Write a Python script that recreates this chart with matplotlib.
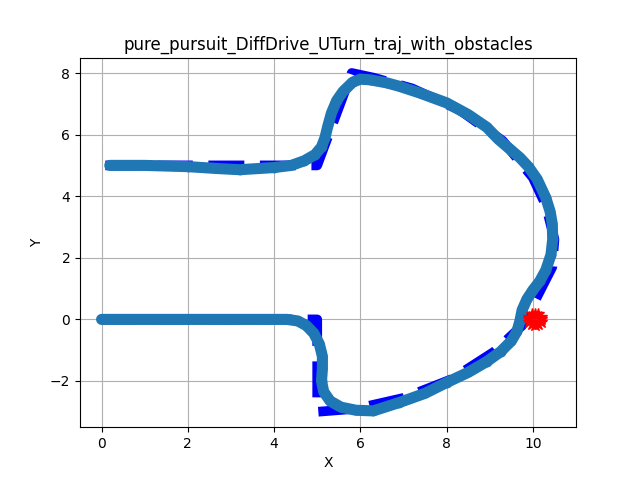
import matplotlib
matplotlib.use('Agg')
import matplotlib.pyplot as plt

# reference path (blue dashed)
ref_x = [0.0, 5.0, 5.0, 5.0, 5.9, 7.0, 8.1, 9.1, 9.75, 10.05, 10.45, 10.5, 10.3, 10.0, 9.3, 8.3, 7.2, 6.3, 5.8, 5.0, 0.0]
ref_y = [0.0, 0.0, -1.5, -3.0, -2.9, -2.55, -1.95, -1.05, -0.2, 0.6, 1.7, 2.6, 3.7, 4.6, 5.8, 6.8, 7.5, 7.85, 8.0, 5.0, 5.0]

# tracked trajectory
traj_x = [0.0, 1.0, 2.0, 3.0, 4.0, 4.3, 4.55, 4.75, 4.92, 5.05, 5.12, 5.12, 5.1, 5.15, 5.3, 5.55, 5.9,
          6.3, 6.9, 7.5, 8.0, 8.5, 8.93, 9.25, 9.5, 9.63, 9.7, 9.75, 9.86, 10.0, 10.16, 10.3, 10.42,
          10.46, 10.45, 10.4, 10.3, 10.1, 9.9, 9.7, 9.45, 9.2, 8.93, 8.5, 8.0, 7.38, 6.9, 6.61, 6.22,
          6.0, 5.82, 5.6, 5.45, 5.33, 5.25, 5.18, 5.1, 4.95, 4.7, 4.4, 4.0, 3.2, 2.67, 2.0, 1.0, 0.19]
traj_y = [0.0, 0.0, 0.0, 0.0, 0.0, -0.0, -0.05, -0.2, -0.45, -0.8, -1.2, -1.6, -2.0, -2.35, -2.65, -2.85, -2.95,
          -2.97, -2.7, -2.4, -2.05, -1.72, -1.37, -1.05, -0.7, -0.39, -0.05, 0.3, 0.65, 0.95, 1.24, 1.6, 2.1,
          2.6, 3.1, 3.5, 3.95, 4.55, 4.95, 5.25, 5.55, 5.85, 6.24, 6.65, 7.03, 7.35, 7.57, 7.68, 7.78,
          7.8, 7.7, 7.4, 7.1, 6.7, 6.3, 5.9, 5.6, 5.35, 5.15, 5.0, 4.93, 4.86, 4.9, 4.96, 5.0, 5.0]

# obstacle points (red stars)
obs_x = [10.20, 10.18, 10.13, 10.05, 9.98, 9.92, 9.90, 9.92, 9.98, 10.05, 10.13, 10.18]
obs_y = [0.00, 0.09, 0.16, 0.18, 0.16, 0.09, 0.00, -0.09, -0.16, -0.18, -0.16, -0.09]

fig, ax = plt.subplots(figsize=(6.4, 4.8), dpi=100)
ax.plot(ref_x, ref_y, 'b--', linewidth=7)
ax.plot(traj_x, traj_y, '-o', color='#1f77b4', linewidth=8, markersize=6,
        solid_capstyle='round', solid_joinstyle='round')
ax.plot(obs_x, obs_y, 'r*', markersize=9)
ax.set_xlim(-0.5, 11)
ax.set_ylim(-3.5, 8.5)
ax.set_xlabel('X')
ax.set_ylabel('Y')
ax.set_title('pure_pursuit_DiffDrive_UTurn_traj_with_obstacles')
ax.grid(True)
fig.savefig('out.png', dpi=100)
